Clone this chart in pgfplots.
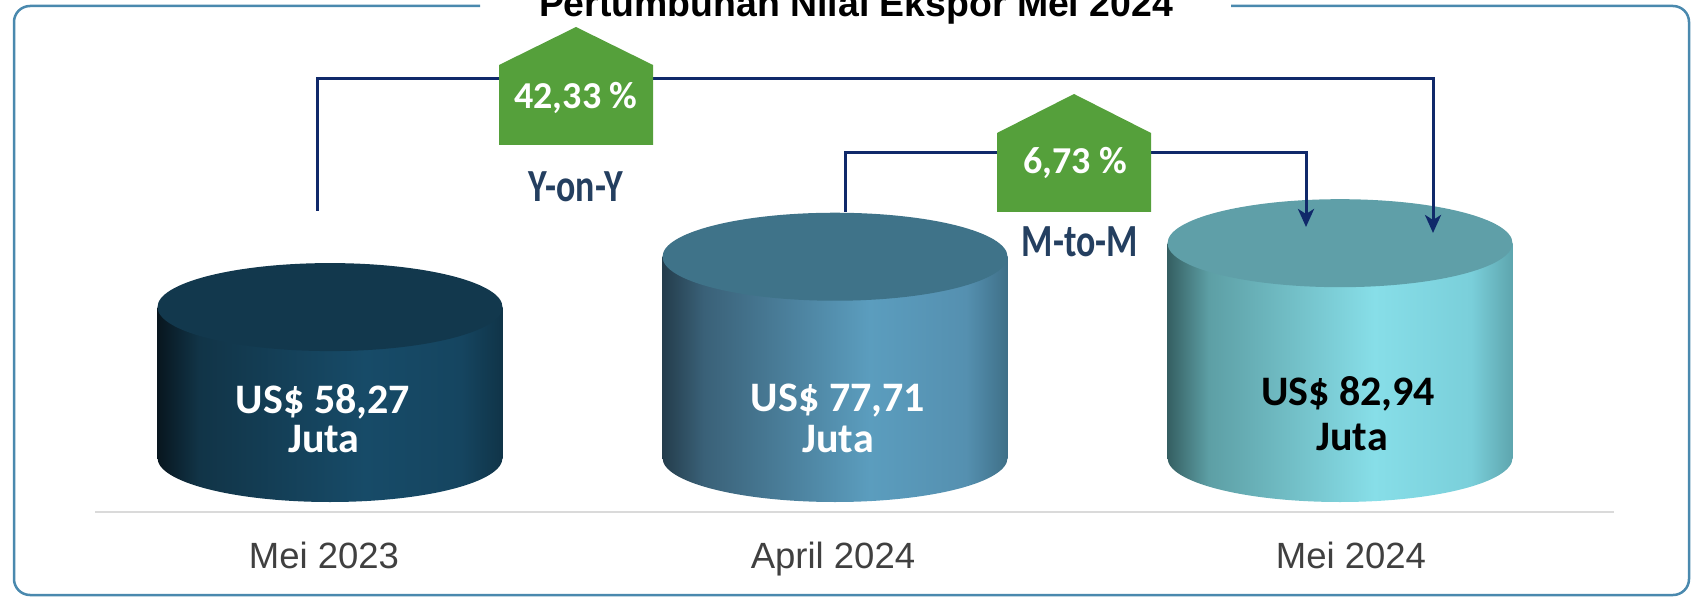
\documentclass[border=0pt]{standalone}
\usepackage{fontspec}
\setmainfont{Liberation Sans}
\newfontfamily\calfont{Carlito}
\newfontfamily\narrowfont[FakeStretch=0.78]{Carlito}
\usepackage{pgfplots}
\pgfplotsset{compat=1.18}
\usetikzlibrary{arrows.meta}

\definecolor{framec}{HTML}{4A89AE}
\definecolor{navyc}{HTML}{10296A}
\definecolor{greenc}{HTML}{55A03B}
\definecolor{labc}{HTML}{404040}
\definecolor{yoyc}{HTML}{243F60}
\definecolor{basec}{HTML}{DADADA}
% cylinder 1
\definecolor{aA}{HTML}{08161F}
\definecolor{aB}{HTML}{113447}
\definecolor{aC}{HTML}{174B68}
\definecolor{aD}{HTML}{154560}
\definecolor{aE}{HTML}{103448}
\definecolor{topA}{HTML}{12384D}
% cylinder 2
\definecolor{bA}{HTML}{243D4C}
\definecolor{bB}{HTML}{3A6178}
\definecolor{bC}{HTML}{5B9DBE}
\definecolor{bD}{HTML}{5590B0}
\definecolor{bE}{HTML}{3F7088}
\definecolor{topB}{HTML}{3F7389}
% cylinder 3
\definecolor{cA}{HTML}{355F62}
\definecolor{cB}{HTML}{5D9FA5}
\definecolor{cC}{HTML}{87DEE8}
\definecolor{cD}{HTML}{7ACFDA}
\definecolor{cE}{HTML}{5EA5AE}
\definecolor{topC}{HTML}{5F9FA8}

\pgfdeclarehorizontalshading{cylA}{100bp}{color(0bp)=(aA); color(25bp)=(aA); color(31bp)=(aB); color(55bp)=(aC); color(69bp)=(aD); color(75bp)=(aE); color(100bp)=(aE)}
\pgfdeclarehorizontalshading{cylB}{100bp}{color(0bp)=(bA); color(25bp)=(bA); color(31bp)=(bB); color(55bp)=(bC); color(69bp)=(bD); color(75bp)=(bE); color(100bp)=(bE)}
\pgfdeclarehorizontalshading{cylC}{100bp}{color(0bp)=(cA); color(25bp)=(cA); color(31bp)=(cB); color(55bp)=(cC); color(69bp)=(cD); color(75bp)=(cE); color(100bp)=(cE)}

\def\cylbot#1{%
  \pgfpathmoveto{\pgfpoint{-172.5pt}{3pt}}%
  \pgfpathlineto{\pgfpoint{-172.5pt}{0pt}}%
  \pgfpatharc{180}{360}{172.5pt and 44pt}%
  \pgfpathlineto{\pgfpoint{172.5pt}{3pt}}%
  \pgfpathclose
  \pgfshadepath{#1}{0}%
  \pgfusepath{discard}}
\pgfdeclareplotmark{cylbotA}{\cylbot{cylA}}
\pgfdeclareplotmark{cylbotB}{\cylbot{cylB}}
\pgfdeclareplotmark{cylbotC}{\cylbot{cylC}}
\pgfdeclareplotmark{cyltop}{%
  \pgfpathellipse{\pgfpointorigin}{\pgfpoint{172.5pt}{0pt}}{\pgfpoint{0pt}{44pt}}%
  \pgfusepathqfill}

\begin{document}
\begin{tikzpicture}[x=1pt,y=1pt]
\useasboundingbox (0,0) rectangle (1693,598);
\clip (0,0) rectangle (1693,598);
% frame
\draw[framec, line width=2.5pt, rounded corners=16pt] (480,592) -- (14,592) -- (14,3) -- (1689,3) -- (1689,592) -- (1231,592);
% baseline
\draw[basec, line width=2.5pt] (95,86) -- (1614,86);

\begin{axis}[at={(0,0)}, anchor=south west, scale only axis,
  width=1693pt, height=598pt, xmin=0, xmax=1693, ymin=-54.054, ymax=176.834,
  hide axis, clip=false, enlargelimits=false]
% Mei 2023
\addplot[only marks, mark=cylbotA] coordinates {(330,0)};
\addplot[ybar, bar width=345pt, bar shift=0pt, draw=none, shade, shading=cylA] coordinates {(330,58.27)};
\addplot[only marks, mark=cyltop, mark options={fill=topA, draw=none}] coordinates {(330,58.27)};
% April 2024
\addplot[only marks, mark=cylbotB] coordinates {(835,0)};
\addplot[ybar, bar width=345pt, bar shift=0pt, draw=none, shade, shading=cylB] coordinates {(835,77.71)};
\addplot[only marks, mark=cyltop, mark options={fill=topB, draw=none}] coordinates {(835,77.71)};
% Mei 2024
\addplot[only marks, mark=cylbotC] coordinates {(1340,0)};
\addplot[ybar, bar width=345pt, bar shift=0pt, draw=none, shade, shading=cylC] coordinates {(1340,82.94)};
\addplot[only marks, mark=cyltop, mark options={fill=topC, draw=none}] coordinates {(1340,82.94)};
\end{axis}

% title
\node[anchor=base, inner sep=0] at (856,581) {\fontsize{37.4}{40}\selectfont\bfseries Pertumbuhan Nilai Ekspor Mei 2024};

% arrows
\draw[navyc, line width=3pt, -{Stealth[length=18pt,width=16pt,inset=5pt]}] (317,387) -- (317,519) -- (1433,519) -- (1433,365);
\draw[navyc, line width=3pt, -{Stealth[length=18pt,width=16pt,inset=5pt]}] (845,386) -- (845,445) -- (1306,445) -- (1306,371);

% green houses
\fill[greenc] (499,453) -- (499,533) -- (576,571) -- (653,533) -- (653,453) -- cycle;
\fill[greenc] (997,386) -- (997,465) -- (1074,504) -- (1151,465) -- (1151,386) -- cycle;
\node[anchor=center, inner sep=0, text=white] at (576,500) {\calfont\bfseries\fontsize{38}{40}\selectfont 42,33 \%};
\node[anchor=center, inner sep=0, text=white] at (1075,435) {\calfont\bfseries\fontsize{38}{40}\selectfont 6,73 \%};
\node[anchor=center, inner sep=0, text=yoyc] at (576,411) {\narrowfont\bfseries\fontsize{46}{48}\selectfont Y-on-Y};
\node[anchor=center, inner sep=0, text=yoyc] at (1080,356) {\narrowfont\bfseries\fontsize{46}{48}\selectfont M-to-M};

% cylinder texts
\node[anchor=base, inner sep=0, text=white] at (323,185) {\calfont\bfseries\fontsize{42}{44}\selectfont US\$ 58,27};
\node[anchor=base, inner sep=0, text=white] at (324,146) {\calfont\bfseries\fontsize{42}{44}\selectfont Juta};
\node[anchor=base, inner sep=0, text=white] at (838,187) {\calfont\bfseries\fontsize{42}{44}\selectfont US\$ 77,71};
\node[anchor=base, inner sep=0, text=white] at (838,146) {\calfont\bfseries\fontsize{42}{44}\selectfont Juta};
\node[anchor=base, inner sep=0, text=black] at (1348,193) {\calfont\bfseries\fontsize{42}{44}\selectfont US\$ 82,94};
\node[anchor=base, inner sep=0, text=black] at (1352,148) {\calfont\bfseries\fontsize{42}{44}\selectfont Juta};

% category labels
\node[anchor=base, inner sep=0, text=labc] at (324,30) {\fontsize{36.5}{40}\selectfont Mei 2023};
\node[anchor=base, inner sep=0, text=labc] at (833,30) {\fontsize{36.5}{40}\selectfont April 2024};
\node[anchor=base, inner sep=0, text=labc] at (1351,30) {\fontsize{36.5}{40}\selectfont Mei 2024};
\end{tikzpicture}
\end{document}
